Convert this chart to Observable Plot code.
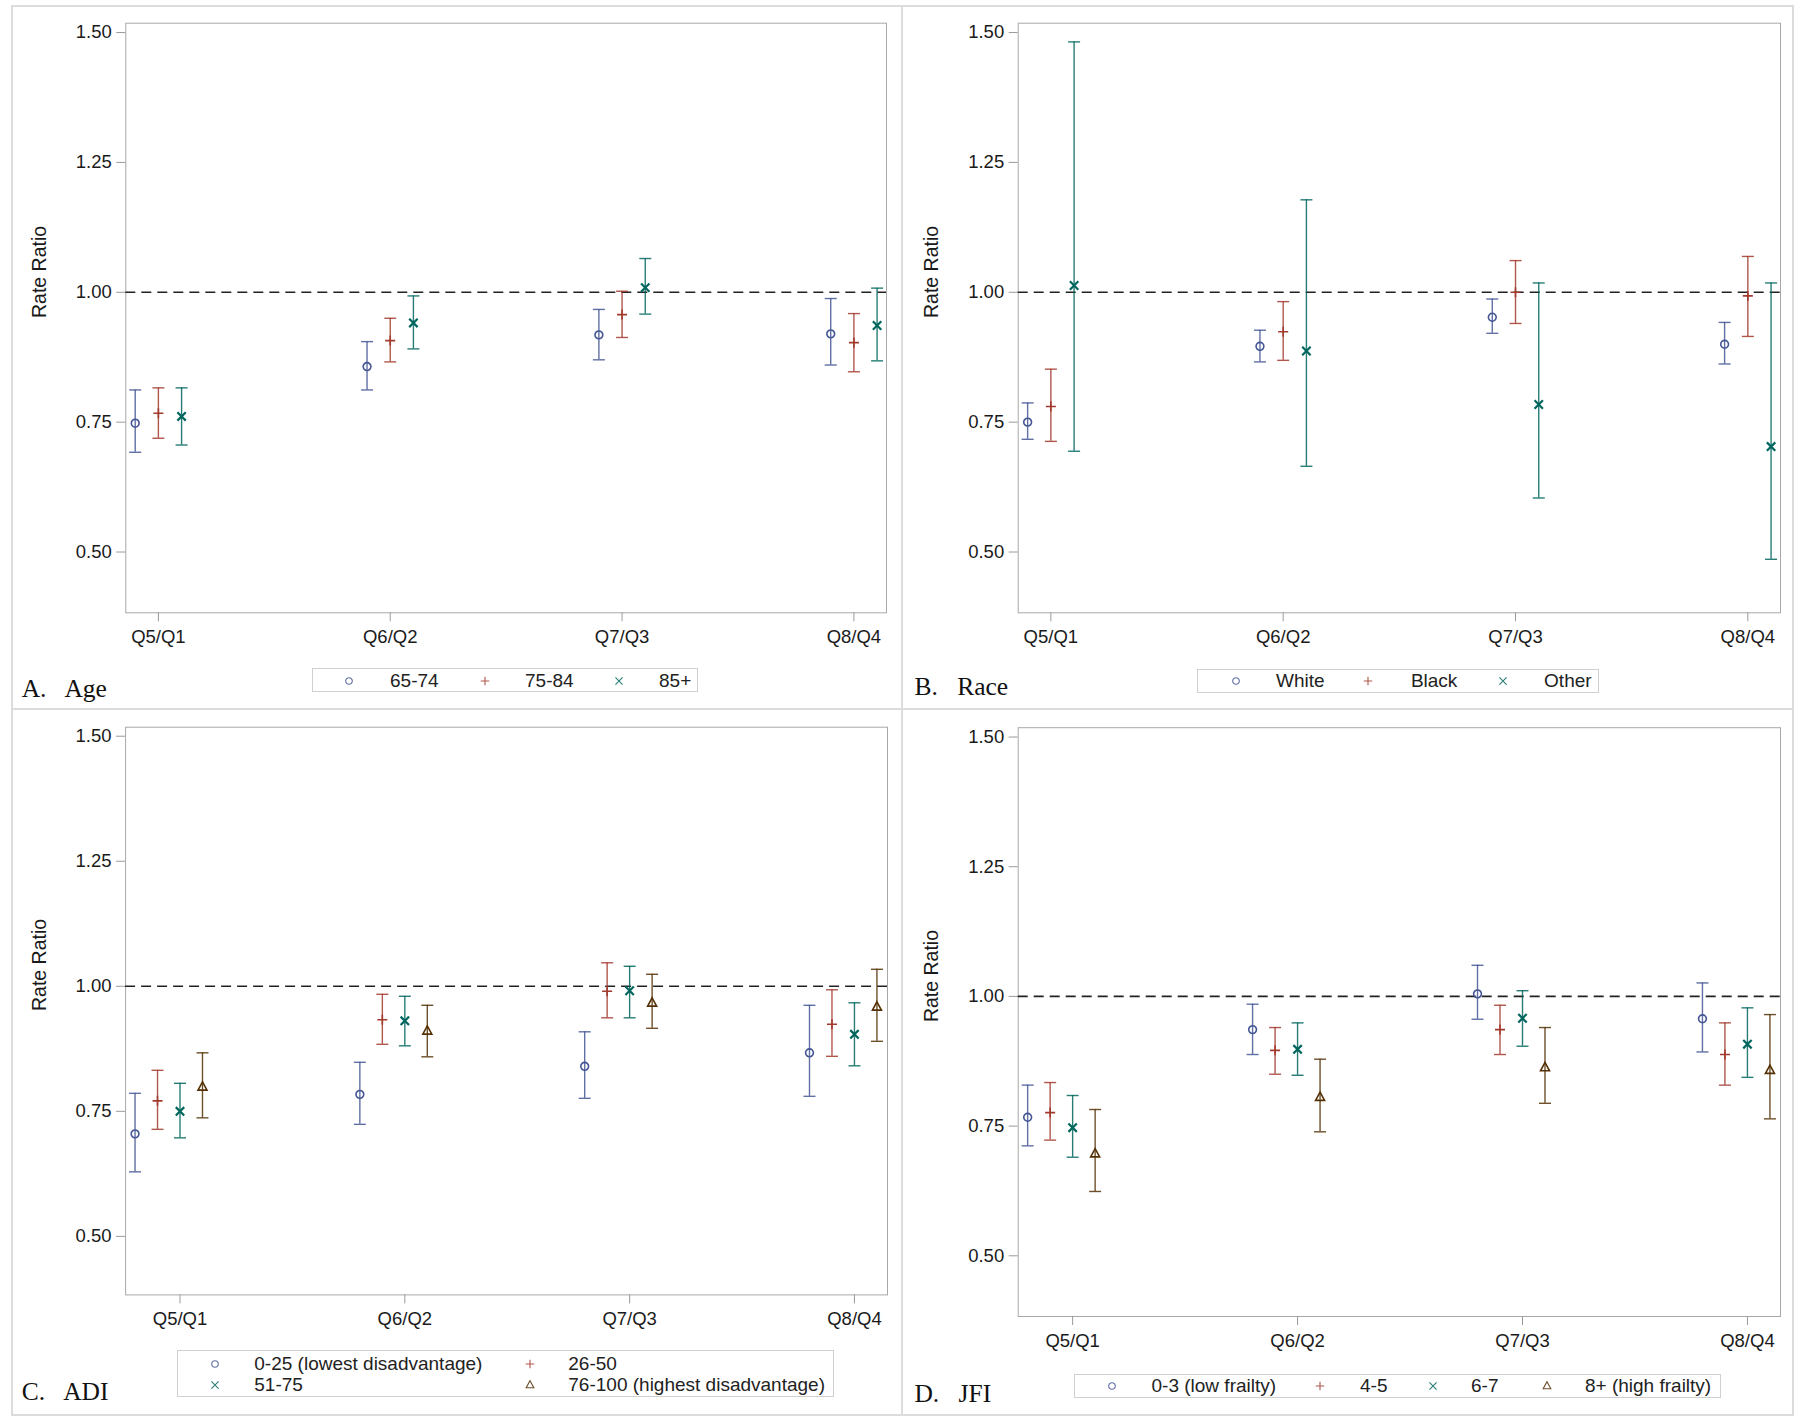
<!DOCTYPE html>
<html><head><meta charset="utf-8">
<script src="https://cdn.jsdelivr.net/npm/d3@7"></script>
<script src="https://cdn.jsdelivr.net/npm/@observablehq/plot@0.6"></script>
<style>
body{margin:0;background:#fff;}
#page{position:relative;width:1800px;height:1419px;overflow:hidden;font-family:"Liberation Sans",Arial,sans-serif;background:#fff;}
.panel-title{position:absolute;font-family:"Liberation Serif","Times New Roman",serif;font-size:25.5px;line-height:25px;color:#111;word-spacing:13px;white-space:pre;}
.legend-box{position:absolute;border:1px solid #d0d0d0;box-sizing:border-box;}
.leg-text{position:absolute;font-size:19px;line-height:20px;color:#222;transform:translateY(-50%);white-space:nowrap;}
.line{position:absolute;background:#dcdcdc;}
</style></head><body><div id="page"></div>
<script>
// ---------------- data ----------------
const quintiles = ["Q5/Q1", "Q6/Q2", "Q7/Q3", "Q8/Q4"];
const yTicks = [0.50, 0.75, 1.00, 1.25, 1.50];
const yLabel = "Rate Ratio";
const refValue = 1.0;

const ageGroups = ["65-74", "75-84", "85+"];
const ageEst  = [[0.748, 0.857, 0.918, 0.920], [0.767, 0.907, 0.957, 0.903], [0.761, 0.941, 1.009, 0.936]];
const ageLow  = [[0.692, 0.812, 0.870, 0.860], [0.719, 0.866, 0.913, 0.847], [0.706, 0.891, 0.958, 0.868]];
const ageHigh = [[0.812, 0.905, 0.967, 0.988], [0.816, 0.950, 1.002, 0.959], [0.816, 0.993, 1.065, 1.008]];

const raceGroups = ["White", "Black", "Other"];
const raceEst  = [[0.750, 0.896, 0.952, 0.900], [0.780, 0.924, 1.000, 0.993], [1.013, 0.887, 0.784, 0.703]];
const raceLow  = [[0.717, 0.866, 0.921, 0.862], [0.713, 0.869, 0.940, 0.915], [0.694, 0.665, 0.604, 0.486]];
const raceHigh = [[0.787, 0.927, 0.987, 0.942], [0.852, 0.982, 1.061, 1.069], [1.482, 1.178, 1.018, 1.018]];

const adiGroups = ["0-25 (lowest disadvantage)", "26-50", "51-75", "76-100 (highest disadvantage)"];
const adiEst  = [[0.705, 0.784, 0.840, 0.867], [0.771, 0.933, 0.990, 0.924], [0.750, 0.931, 0.991, 0.904], [0.799, 0.911, 0.967, 0.959]];
const adiLow  = [[0.629, 0.724, 0.776, 0.780], [0.714, 0.884, 0.937, 0.860], [0.697, 0.881, 0.937, 0.841], [0.737, 0.859, 0.916, 0.890]];
const adiHigh = [[0.786, 0.848, 0.909, 0.962], [0.832, 0.984, 1.047, 0.993], [0.806, 0.980, 1.040, 0.967], [0.867, 0.962, 1.024, 1.034]];

const jfiGroups = ["0-3 (low frailty)", "4-5", "6-7", "8+ (high frailty)"];
const jfiEst  = [[0.767, 0.936, 1.005, 0.957], [0.776, 0.896, 0.936, 0.888], [0.747, 0.898, 0.958, 0.908], [0.697, 0.806, 0.863, 0.858]];
const jfiLow  = [[0.712, 0.888, 0.956, 0.893], [0.723, 0.850, 0.888, 0.829], [0.690, 0.848, 0.904, 0.844], [0.624, 0.739, 0.794, 0.764]];
const jfiHigh = [[0.829, 0.985, 1.060, 1.026], [0.834, 0.940, 0.983, 0.949], [0.809, 0.949, 1.011, 0.978], [0.782, 0.879, 0.940, 0.965]];

// ---------------- styles ----------------
const seriesColors = ["#445694", "#A23A2E", "#01665E", "#543005"];
const symCircle = {draw(c) { c.moveTo(3.9, 0); c.arc(0, 0, 3.9, 0, 2 * Math.PI); }};
const symPlus = {draw(c) { c.moveTo(-5, 0); c.lineTo(5, 0); c.moveTo(0, -5); c.lineTo(0, 5); }};
const symTimes = {draw(c) { c.moveTo(-4.2, -4.2); c.lineTo(4.2, 4.2); c.moveTo(-4.2, 4.2); c.lineTo(4.2, -4.2); }};
const symTri = {draw(c) { c.moveTo(0, -5); c.lineTo(4.5, 3.3); c.lineTo(-4.5, 3.3); c.closePath(); }};
const symCap = {draw(c) { c.moveTo(-6, 0); c.lineTo(6, 0); }};
const seriesSymbols = [symCircle, symPlus, symTimes, symTri];
const markerWidths = [1.6, 1.6, 2.2, 1.6];

const page = document.getElementById("page");

function addLine(x, y, w, h) {
  const d = document.createElement("div");
  d.className = "line";
  Object.assign(d.style, {left: x + "px", top: y + "px", width: w + "px", height: h + "px"});
  page.appendChild(d);
}

function panel(cfg) {
  const {groups, est, low, high, left, top, width, height, margin, xDomain} = cfg;
  const n = groups.length;
  const center = n === 3 ? 1 : 2;
  const rows = [];
  groups.forEach((g, k) => quintiles.forEach((q, i) => rows.push({
    group: g, k, pos: i + (k - center) * 0.1, est: est[k][i], low: low[k][i], high: high[k][i]
  })));
  const chart = Plot.plot({
    width, height,
    marginLeft: margin[0], marginTop: margin[1], marginRight: margin[2], marginBottom: margin[3],
    style: {fontFamily: "'Liberation Sans', Arial, sans-serif", fontSize: "18px", color: "#222", background: "transparent", overflow: "visible"},
    x: {domain: xDomain, axis: null},
    y: {domain: [0.383, 1.518], axis: null},
    color: {domain: groups, range: seriesColors.slice(0, n)},
    symbol: {domain: groups, range: seriesSymbols.slice(0, n)},
    marks: [
      Plot.frame({stroke: "#a8a8a8"}),
      Plot.axisY({ticks: yTicks, tickFormat: d3.format(".2f"), tickSize: 9, tickPadding: 5, stroke: "#9a9a9a", fill: "#1a1a1a", label: null, fontSize: 18.5}),
      Plot.axisX({ticks: [0, 1, 2, 3], tickFormat: i => quintiles[i], tickSize: 9, tickPadding: 8, stroke: "#9a9a9a", fill: "#1a1a1a", label: null, fontSize: 18.5}),
      Plot.text([yLabel], {frameAnchor: "left", rotate: -90, dx: -86, fontSize: 19.5, fill: "#1a1a1a"}),
      Plot.ruleY([refValue], {stroke: "#222", strokeWidth: 1.6, strokeDasharray: "10,6"}),
      Plot.ruleX(rows, {x: "pos", y1: "low", y2: "high", stroke: "group", strokeWidth: 1.4, strokeOpacity: 0.85}),
      Plot.dot(rows, {x: "pos", y: "high", symbol: symCap, stroke: "group", fill: "none", strokeWidth: 1.4, strokeOpacity: 0.85}),
      Plot.dot(rows, {x: "pos", y: "low", symbol: symCap, stroke: "group", fill: "none", strokeWidth: 1.4, strokeOpacity: 0.85}),
      Plot.dot(rows, {x: "pos", y: "est", symbol: "group", stroke: "group", fill: "none", strokeWidth: d => markerWidths[d.k]})
    ]
  });
  chart.style.position = "absolute";
  chart.style.left = left + "px";
  chart.style.top = top + "px";
  page.appendChild(chart);
}

function legend(cfg) {
  const {groups, box, markersX, textsX, rowsY} = cfg;
  const b = document.createElement("div");
  b.className = "legend-box";
  Object.assign(b.style, {left: box[0] + "px", top: box[1] + "px", width: box[2] + "px", height: box[3] + "px"});
  page.appendChild(b);
  groups.forEach((g, k) => {
    const mx = markersX[k], tx = textsX[k], y = rowsY[k];
    const svg = d3.create("svg").attr("width", 16).attr("height", 16)
      .style("position", "absolute").style("left", (mx - 8) + "px").style("top", (y - 8) + "px").style("overflow", "visible");
    const p = d3.path();
    seriesSymbols[k].draw(p);
    svg.append("path").attr("transform", "translate(8,8) scale(0.85)").attr("d", p.toString())
      .attr("fill", "none").attr("stroke", seriesColors[k]).attr("stroke-width", 1.3).attr("stroke-opacity", 0.85);
    page.appendChild(svg.node());
    const t = document.createElement("div");
    t.className = "leg-text";
    t.textContent = g;
    t.style.left = tx + "px";
    t.style.top = y + "px";
    page.appendChild(t);
  });
}

function title(text, x, baseline) {
  const d = document.createElement("div");
  d.className = "panel-title";
  d.textContent = text;
  d.style.left = x + "px";
  d.style.top = (baseline - 21) + "px";
  page.appendChild(d);
}

// borders
addLine(11, 5, 1783, 2);
addLine(11, 1414, 1783, 2);
addLine(11, 5, 2, 1411);
addLine(1792, 5, 2, 1411);
addLine(901, 5, 2, 1411);
addLine(11, 708, 1783, 2);

const dom3 = [-0.1406, 3.1406];
const dom4 = [-0.242, 3.147];

panel({groups: ageGroups, est: ageEst, low: ageLow, high: ageHigh, left: 0, top: 0, width: 900, height: 660, margin: [125.3, 22.7, 14, 47.7], xDomain: dom3});
panel({groups: raceGroups, est: raceEst, low: raceLow, high: raceHigh, left: 900, top: 0, width: 900, height: 660, margin: [117.7, 22.7, 20, 47.7], xDomain: dom3});
panel({groups: adiGroups, est: adiEst, low: adiLow, high: adiHigh, left: 0, top: 709, width: 900, height: 640, margin: [125.1, 17.7, 13, 54.6], xDomain: dom4});
panel({groups: jfiGroups, est: jfiEst, low: jfiLow, high: jfiHigh, left: 900, top: 709, width: 900, height: 650, margin: [117.7, 18.2, 20, 43], xDomain: dom4});

legend({groups: ageGroups, box: [311.7, 668.3, 386.6, 24], markersX: [349.3, 485, 619], textsX: [390, 525, 659], rowsY: [681, 681, 681]});
legend({groups: raceGroups, box: [1197.4, 669, 401.2, 23.5], markersX: [1235.8, 1368, 1502.8], textsX: [1276, 1410.9, 1544.1], rowsY: [681, 681, 681]});
legend({groups: adiGroups, box: [176.8, 1350, 657.3, 47], markersX: [215.3, 530.4, 215.3, 530.4], textsX: [254.3, 568.3, 254.3, 568.3], rowsY: [1363.5, 1363.5, 1385, 1385]});
legend({groups: jfiGroups, box: [1074, 1373.5, 647, 24], markersX: [1112.4, 1320, 1433, 1547], textsX: [1151.5, 1360, 1471, 1585], rowsY: [1385.5, 1385.5, 1385.5, 1385.5]});

title("A. Age", 21.7, 696.7);
title("B. Race", 914.4, 695);
title("C. ADI", 21.8, 1400);
title("D. JFI", 914.4, 1402);
</script></body></html>
